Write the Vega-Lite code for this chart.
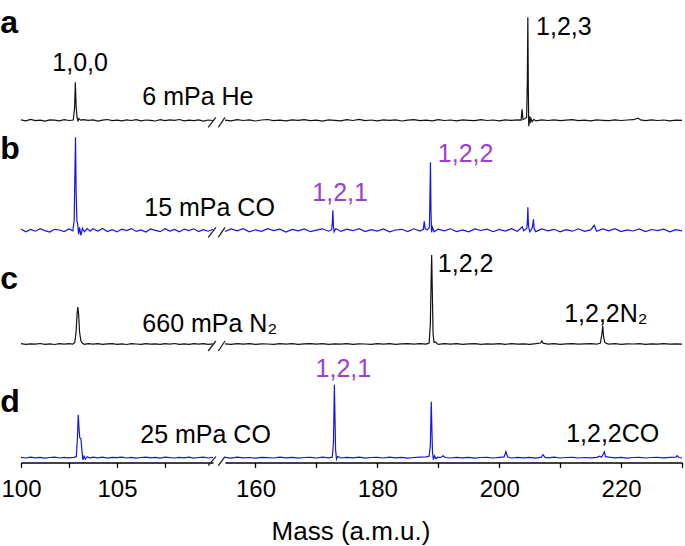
{
"$schema":"https://vega.github.io/schema/vega-lite/v6.json",
"autosize":{"type":"pad"},
"padding":{"left":0,"top":7,"right":3,"bottom":5},
"config":{"view":{"stroke":null},"font":"Liberation Sans",
"axis":{"domainColor":"#000","domainWidth":1.5,"tickColor":"#000","tickWidth":1.3,"tickSize":5,"labelFontSize":24,"labelColor":"#000","labelPadding":10,"labelFont":"Liberation Sans","titleFont":"Liberation Sans","titleFontSize":26,"titleFontWeight":"normal","titleColor":"#000","grid":false,"labelFlush":false,"labelOverlap":false},
"text":{"font":"Liberation Sans"}},
"data":{"values":[
{"p":"a","m":100.0,"v":0.4},{"p":"a","m":100.25,"v":-0.6},{"p":"a","m":100.5,"v":0.9},{"p":"a","m":100.75,"v":-0.3},{"p":"a","m":101.0,"v":0.2},{"p":"a","m":101.25,"v":-0.8},{"p":"a","m":101.5,"v":0.5},{"p":"a","m":101.75,"v":0.1},{"p":"a","m":102.0,"v":-0.5},{"p":"a","m":102.25,"v":0.7},{"p":"a","m":102.5,"v":-0.2},{"p":"a","m":102.72,"v":0.3},{"p":"a","m":102.79,"v":12},{"p":"a","m":102.83,"v":38},{"p":"a","m":102.87,"v":14},{"p":"a","m":102.92,"v":2.5},{"p":"a","m":102.97,"v":-0.5},{"p":"a","m":103.02,"v":1.8},{"p":"a","m":103.1,"v":0.2},{"p":"a","m":103.25,"v":0.6},{"p":"a","m":103.5,"v":-0.1},{"p":"a","m":103.75,"v":0.4},{"p":"a","m":104.0,"v":-0.9},{"p":"a","m":104.25,"v":0.2},{"p":"a","m":104.5,"v":0.8},{"p":"a","m":104.75,"v":-0.4},{"p":"a","m":105.0,"v":0.1},{"p":"a","m":105.25,"v":-0.6},{"p":"a","m":105.5,"v":0.5},{"p":"a","m":105.75,"v":-0.2},{"p":"a","m":106.0,"v":0.7},{"p":"a","m":106.25,"v":-0.5},{"p":"a","m":106.5,"v":0.3},{"p":"a","m":106.75,"v":0.0},{"p":"a","m":107.0,"v":-0.7},{"p":"a","m":107.25,"v":0.6},{"p":"a","m":107.5,"v":-0.3},{"p":"a","m":107.75,"v":0.4},{"p":"a","m":108.0,"v":-0.1},{"p":"a","m":108.25,"v":0.8},{"p":"a","m":108.5,"v":-0.6},{"p":"a","m":108.75,"v":0.2},{"p":"a","m":109.0,"v":-0.4},{"p":"a","m":109.25,"v":0.5},{"p":"a","m":109.5,"v":-0.8},{"p":"a","m":109.75,"v":0.3},{"p":"a","m":110.0,"v":-0.2},
{"p":"a","m":155,"v":0.2},{"p":"a","m":156,"v":-0.5},{"p":"a","m":157,"v":0.6},{"p":"a","m":158,"v":-0.2},{"p":"a","m":159,"v":0.4},{"p":"a","m":160,"v":-0.7},{"p":"a","m":161,"v":0.3},{"p":"a","m":162,"v":0.8},{"p":"a","m":163,"v":-0.4},{"p":"a","m":164,"v":0.1},{"p":"a","m":165,"v":-0.6},{"p":"a","m":166,"v":0.5},{"p":"a","m":167,"v":-0.1},{"p":"a","m":168,"v":0.7},{"p":"a","m":169,"v":-0.3},{"p":"a","m":170,"v":0.2},{"p":"a","m":171,"v":-0.8},{"p":"a","m":172,"v":0.4},{"p":"a","m":173,"v":0.0},{"p":"a","m":174,"v":-0.5},{"p":"a","m":175,"v":0.6},{"p":"a","m":176,"v":-0.2},{"p":"a","m":177,"v":0.9},{"p":"a","m":178,"v":-0.4},{"p":"a","m":179,"v":0.3},{"p":"a","m":180,"v":-0.6},{"p":"a","m":181,"v":0.5},{"p":"a","m":182,"v":-0.1},{"p":"a","m":183,"v":0.4},{"p":"a","m":184,"v":-0.7},{"p":"a","m":185,"v":0.2},{"p":"a","m":186,"v":0.6},{"p":"a","m":187,"v":-0.3},{"p":"a","m":188,"v":0.1},{"p":"a","m":189,"v":-0.5},{"p":"a","m":190,"v":0.7},{"p":"a","m":191,"v":-0.2},{"p":"a","m":192,"v":0.3},{"p":"a","m":193,"v":-0.6},{"p":"a","m":194,"v":0.5},{"p":"a","m":195,"v":0.0},{"p":"a","m":196,"v":-0.4},{"p":"a","m":197,"v":0.6},{"p":"a","m":198,"v":-0.2},{"p":"a","m":199,"v":0.3},{"p":"a","m":200,"v":-0.5},{"p":"a","m":201,"v":0.4},{"p":"a","m":202,"v":-0.1},{"p":"a","m":203,"v":0.5},{"p":"a","m":203.6,"v":0.2},{"p":"a","m":203.75,"v":11},{"p":"a","m":203.9,"v":0.8},{"p":"a","m":204.2,"v":1.5},{"p":"a","m":204.5,"v":3},{"p":"a","m":204.62,"v":40},{"p":"a","m":204.7,"v":103},{"p":"a","m":204.78,"v":30},{"p":"a","m":204.85,"v":-6},{"p":"a","m":204.95,"v":4},{"p":"a","m":205.05,"v":-3},{"p":"a","m":205.2,"v":2},{"p":"a","m":205.4,"v":-1.5},{"p":"a","m":205.7,"v":1},{"p":"a","m":206,"v":-0.6},{"p":"a","m":207,"v":0.4},{"p":"a","m":208,"v":-0.2},{"p":"a","m":209,"v":0.5},{"p":"a","m":210,"v":-0.4},{"p":"a","m":211,"v":0.1},{"p":"a","m":212,"v":0.6},{"p":"a","m":213,"v":-0.3},{"p":"a","m":214,"v":0.2},{"p":"a","m":215,"v":-0.5},{"p":"a","m":216,"v":0.4},{"p":"a","m":217,"v":0.0},{"p":"a","m":218,"v":-0.4},{"p":"a","m":219,"v":0.5},{"p":"a","m":220,"v":-0.2},{"p":"a","m":221,"v":0.3},{"p":"a","m":222,"v":0.6},{"p":"a","m":222.8,"v":2.2},{"p":"a","m":223.2,"v":0.4},{"p":"a","m":224,"v":-0.3},{"p":"a","m":225,"v":0.5},{"p":"a","m":226,"v":-0.2},{"p":"a","m":227,"v":0.3},{"p":"a","m":228,"v":-0.5},{"p":"a","m":229,"v":0.2},{"p":"a","m":230,"v":-0.1},
{"p":"b","m":100.0,"v":1.2},{"p":"b","m":100.25,"v":-1.5},{"p":"b","m":100.5,"v":0.8},{"p":"b","m":100.75,"v":-0.9},{"p":"b","m":101.0,"v":1.6},{"p":"b","m":101.25,"v":-0.4},{"p":"b","m":101.5,"v":-1.8},{"p":"b","m":101.75,"v":1.0},{"p":"b","m":102.0,"v":0.3},{"p":"b","m":102.25,"v":-1.2},{"p":"b","m":102.5,"v":1.4},{"p":"b","m":102.7,"v":-0.6},{"p":"b","m":102.77,"v":10},{"p":"b","m":102.81,"v":60},{"p":"b","m":102.84,"v":93},{"p":"b","m":102.87,"v":40},{"p":"b","m":102.91,"v":9},{"p":"b","m":102.95,"v":7},{"p":"b","m":103.0,"v":-4},{"p":"b","m":103.05,"v":3},{"p":"b","m":103.12,"v":-5},{"p":"b","m":103.2,"v":2},{"p":"b","m":103.3,"v":-1.5},{"p":"b","m":103.45,"v":1.8},{"p":"b","m":103.6,"v":-1.0},{"p":"b","m":103.75,"v":1.5},{"p":"b","m":104.0,"v":-0.8},{"p":"b","m":104.25,"v":1.9},{"p":"b","m":104.5,"v":-1.3},{"p":"b","m":104.75,"v":0.6},{"p":"b","m":105.0,"v":-1.6},{"p":"b","m":105.25,"v":1.1},{"p":"b","m":105.5,"v":-0.2},{"p":"b","m":105.75,"v":1.7},{"p":"b","m":106.0,"v":-1.1},{"p":"b","m":106.25,"v":0.4},{"p":"b","m":106.5,"v":-1.7},{"p":"b","m":106.75,"v":1.3},{"p":"b","m":107.0,"v":0.0},{"p":"b","m":107.25,"v":-1.4},{"p":"b","m":107.5,"v":1.6},{"p":"b","m":107.75,"v":-0.7},{"p":"b","m":108.0,"v":0.9},{"p":"b","m":108.25,"v":-1.5},{"p":"b","m":108.5,"v":1.2},{"p":"b","m":108.75,"v":-0.3},{"p":"b","m":109.0,"v":1.5},{"p":"b","m":109.25,"v":-1.2},{"p":"b","m":109.5,"v":0.7},{"p":"b","m":109.75,"v":-0.9},{"p":"b","m":110.0,"v":1.1},
{"p":"b","m":155,"v":-1.2},{"p":"b","m":156,"v":1.4},{"p":"b","m":157,"v":-0.6},{"p":"b","m":158,"v":1.7},{"p":"b","m":159,"v":-1.5},{"p":"b","m":160,"v":0.5},{"p":"b","m":161,"v":-1.0},{"p":"b","m":162,"v":1.6},{"p":"b","m":163,"v":-0.3},{"p":"b","m":164,"v":1.1},{"p":"b","m":165,"v":-1.7},{"p":"b","m":166,"v":0.8},{"p":"b","m":167,"v":-0.5},{"p":"b","m":168,"v":1.3},{"p":"b","m":169,"v":-1.4},{"p":"b","m":170,"v":0.2},{"p":"b","m":171,"v":1.5},{"p":"b","m":172,"v":-0.9},{"p":"b","m":172.5,"v":0.6},{"p":"b","m":172.62,"v":8},{"p":"b","m":172.7,"v":20},{"p":"b","m":172.8,"v":4},{"p":"b","m":172.9,"v":-1.5},{"p":"b","m":173.2,"v":1.8},{"p":"b","m":174,"v":-1.1},{"p":"b","m":175,"v":1.2},{"p":"b","m":176,"v":-0.4},{"p":"b","m":177,"v":1.6},{"p":"b","m":178,"v":-1.3},{"p":"b","m":179,"v":0.7},{"p":"b","m":180,"v":-0.8},{"p":"b","m":181,"v":1.4},{"p":"b","m":182,"v":-1.6},{"p":"b","m":183,"v":0.3},{"p":"b","m":184,"v":1.0},{"p":"b","m":185,"v":-1.2},{"p":"b","m":186,"v":1.5},{"p":"b","m":187,"v":-0.7},{"p":"b","m":187.55,"v":1},{"p":"b","m":187.7,"v":9},{"p":"b","m":187.85,"v":1.5},{"p":"b","m":188.2,"v":0.5},{"p":"b","m":188.55,"v":3},{"p":"b","m":188.65,"v":40},{"p":"b","m":188.72,"v":68},{"p":"b","m":188.8,"v":20},{"p":"b","m":188.9,"v":-2},{"p":"b","m":189.05,"v":3},{"p":"b","m":189.3,"v":-1.5},{"p":"b","m":190,"v":1.2},{"p":"b","m":191,"v":-0.6},{"p":"b","m":192,"v":1.5},{"p":"b","m":193,"v":-1.2},{"p":"b","m":194,"v":0.4},{"p":"b","m":195,"v":-1.6},{"p":"b","m":196,"v":1.3},{"p":"b","m":197,"v":-0.2},{"p":"b","m":198,"v":1.1},{"p":"b","m":199,"v":-1.4},{"p":"b","m":200,"v":0.9},{"p":"b","m":201,"v":-0.8},{"p":"b","m":202,"v":1.6},{"p":"b","m":203,"v":-1.0},{"p":"b","m":203.8,"v":3.5},{"p":"b","m":204,"v":-0.5},{"p":"b","m":204.55,"v":2},{"p":"b","m":204.65,"v":12},{"p":"b","m":204.7,"v":23},{"p":"b","m":204.8,"v":5},{"p":"b","m":205.0,"v":-1.5},{"p":"b","m":205.4,"v":2},{"p":"b","m":205.55,"v":7},{"p":"b","m":205.62,"v":11},{"p":"b","m":205.72,"v":2},{"p":"b","m":206,"v":-1.3},{"p":"b","m":207,"v":1.4},{"p":"b","m":208,"v":-0.5},{"p":"b","m":209,"v":1.0},{"p":"b","m":210,"v":-1.5},{"p":"b","m":211,"v":0.6},{"p":"b","m":212,"v":-0.9},{"p":"b","m":213,"v":1.5},{"p":"b","m":214,"v":-1.1},{"p":"b","m":215,"v":0.4},{"p":"b","m":215.6,"v":5},{"p":"b","m":215.9,"v":0.2},{"p":"b","m":216,"v":-1.0},{"p":"b","m":217,"v":1.3},{"p":"b","m":218,"v":-0.6},{"p":"b","m":219,"v":1.6},{"p":"b","m":220,"v":-1.2},{"p":"b","m":221,"v":0.5},{"p":"b","m":222,"v":-0.7},{"p":"b","m":223,"v":1.4},{"p":"b","m":224,"v":-1.3},{"p":"b","m":225,"v":0.8},{"p":"b","m":226,"v":-0.4},{"p":"b","m":227,"v":1.2},{"p":"b","m":228,"v":-1.5},{"p":"b","m":229,"v":0.7},{"p":"b","m":230,"v":-0.5},
{"p":"c","m":100.0,"v":0.3},{"p":"c","m":100.25,"v":-0.4},{"p":"c","m":100.5,"v":0.2},{"p":"c","m":100.75,"v":-0.2},{"p":"c","m":101.0,"v":0.5},{"p":"c","m":101.25,"v":-0.3},{"p":"c","m":101.5,"v":0.1},{"p":"c","m":101.75,"v":-0.5},{"p":"c","m":102.0,"v":0.3},{"p":"c","m":102.25,"v":-0.1},{"p":"c","m":102.5,"v":0.4},{"p":"c","m":102.7,"v":-0.2},{"p":"c","m":102.8,"v":1.5},{"p":"c","m":102.87,"v":12},{"p":"c","m":102.92,"v":30},{"p":"c","m":102.96,"v":37},{"p":"c","m":103.0,"v":30},{"p":"c","m":103.05,"v":12},{"p":"c","m":103.12,"v":3},{"p":"c","m":103.2,"v":0.8},{"p":"c","m":103.3,"v":-0.3},{"p":"c","m":103.5,"v":0.4},{"p":"c","m":103.75,"v":-0.2},{"p":"c","m":104.0,"v":0.3},{"p":"c","m":104.25,"v":-0.4},{"p":"c","m":104.5,"v":0.1},{"p":"c","m":104.75,"v":0.4},{"p":"c","m":105.0,"v":-0.3},{"p":"c","m":105.25,"v":0.2},{"p":"c","m":105.5,"v":-0.5},{"p":"c","m":105.75,"v":0.3},{"p":"c","m":106.0,"v":0.0},{"p":"c","m":106.25,"v":-0.3},{"p":"c","m":106.5,"v":0.4},{"p":"c","m":106.75,"v":-0.2},{"p":"c","m":107.0,"v":0.2},{"p":"c","m":107.25,"v":-0.4},{"p":"c","m":107.5,"v":0.3},{"p":"c","m":107.75,"v":-0.1},{"p":"c","m":108.0,"v":0.5},{"p":"c","m":108.25,"v":-0.3},{"p":"c","m":108.5,"v":0.1},{"p":"c","m":108.75,"v":-0.4},{"p":"c","m":109.0,"v":0.3},{"p":"c","m":109.25,"v":-0.2},{"p":"c","m":109.5,"v":0.4},{"p":"c","m":109.75,"v":-0.3},{"p":"c","m":110.0,"v":0.1},
{"p":"c","m":155,"v":0.2},{"p":"c","m":156,"v":-0.3},{"p":"c","m":157,"v":0.4},{"p":"c","m":158,"v":-0.1},{"p":"c","m":159,"v":0.3},{"p":"c","m":160,"v":-0.4},{"p":"c","m":161,"v":0.2},{"p":"c","m":162,"v":0.0},{"p":"c","m":163,"v":-0.3},{"p":"c","m":164,"v":0.4},{"p":"c","m":165,"v":-0.2},{"p":"c","m":166,"v":0.3},{"p":"c","m":167,"v":-0.4},{"p":"c","m":168,"v":0.1},{"p":"c","m":169,"v":0.3},{"p":"c","m":170,"v":-0.2},{"p":"c","m":171,"v":0.4},{"p":"c","m":172,"v":-0.3},{"p":"c","m":173,"v":0.2},{"p":"c","m":174,"v":-0.1},{"p":"c","m":175,"v":0.3},{"p":"c","m":176,"v":-0.4},{"p":"c","m":177,"v":0.2},{"p":"c","m":178,"v":0.0},{"p":"c","m":179,"v":-0.3},{"p":"c","m":180,"v":0.4},{"p":"c","m":181,"v":-0.2},{"p":"c","m":182,"v":0.3},{"p":"c","m":183,"v":-0.4},{"p":"c","m":184,"v":0.1},{"p":"c","m":185,"v":0.3},{"p":"c","m":186,"v":-0.2},{"p":"c","m":187,"v":0.4},{"p":"c","m":188,"v":-0.1},{"p":"c","m":188.5,"v":1},{"p":"c","m":188.7,"v":20},{"p":"c","m":188.85,"v":70},{"p":"c","m":188.92,"v":89},{"p":"c","m":189.0,"v":60},{"p":"c","m":189.15,"v":10},{"p":"c","m":189.3,"v":1.5},{"p":"c","m":189.5,"v":2},{"p":"c","m":189.8,"v":0.5},{"p":"c","m":190,"v":-0.3},{"p":"c","m":191,"v":0.3},{"p":"c","m":192,"v":-0.2},{"p":"c","m":193,"v":0.4},{"p":"c","m":194,"v":-0.3},{"p":"c","m":195,"v":0.1},{"p":"c","m":196,"v":0.3},{"p":"c","m":197,"v":-0.4},{"p":"c","m":198,"v":0.2},{"p":"c","m":199,"v":-0.1},{"p":"c","m":200,"v":0.3},{"p":"c","m":201,"v":-0.3},{"p":"c","m":202,"v":0.4},{"p":"c","m":203,"v":-0.2},{"p":"c","m":204,"v":0.2},{"p":"c","m":205,"v":-0.3},{"p":"c","m":206,"v":0.3},{"p":"c","m":206.8,"v":1},{"p":"c","m":207,"v":3},{"p":"c","m":207.2,"v":0.8},{"p":"c","m":208,"v":-0.2},{"p":"c","m":209,"v":0.3},{"p":"c","m":210,"v":-0.3},{"p":"c","m":211,"v":0.2},{"p":"c","m":212,"v":0.4},{"p":"c","m":213,"v":-0.2},{"p":"c","m":214,"v":0.1},{"p":"c","m":215,"v":0.3},{"p":"c","m":216,"v":-0.2},{"p":"c","m":216.6,"v":1},{"p":"c","m":216.85,"v":10},{"p":"c","m":217,"v":18},{"p":"c","m":217.12,"v":8},{"p":"c","m":217.3,"v":2},{"p":"c","m":217.6,"v":0.6},{"p":"c","m":218,"v":-0.2},{"p":"c","m":219,"v":0.3},{"p":"c","m":220,"v":-0.3},{"p":"c","m":221,"v":0.2},{"p":"c","m":222,"v":0.0},{"p":"c","m":223,"v":0.3},{"p":"c","m":224,"v":-0.3},{"p":"c","m":225,"v":0.2},{"p":"c","m":226,"v":-0.2},{"p":"c","m":227,"v":0.3},{"p":"c","m":228,"v":-0.1},{"p":"c","m":229,"v":0.2},{"p":"c","m":230,"v":-0.2},
{"p":"d","m":100.0,"v":0.4},{"p":"d","m":100.25,"v":-0.3},{"p":"d","m":100.5,"v":0.6},{"p":"d","m":100.75,"v":-0.2},{"p":"d","m":101.0,"v":0.3},{"p":"d","m":101.25,"v":-0.5},{"p":"d","m":101.5,"v":0.2},{"p":"d","m":101.75,"v":0.5},{"p":"d","m":102.0,"v":-0.3},{"p":"d","m":102.25,"v":0.4},{"p":"d","m":102.5,"v":-0.1},{"p":"d","m":102.75,"v":0.3},{"p":"d","m":102.88,"v":1},{"p":"d","m":102.94,"v":20},{"p":"d","m":102.98,"v":43},{"p":"d","m":103.02,"v":30},{"p":"d","m":103.06,"v":20},{"p":"d","m":103.12,"v":19},{"p":"d","m":103.17,"v":8},{"p":"d","m":103.22,"v":-2},{"p":"d","m":103.28,"v":1.5},{"p":"d","m":103.35,"v":-1.5},{"p":"d","m":103.45,"v":1},{"p":"d","m":103.6,"v":-0.4},{"p":"d","m":103.75,"v":0.6},{"p":"d","m":104.0,"v":-0.2},{"p":"d","m":104.25,"v":0.5},{"p":"d","m":104.5,"v":-0.4},{"p":"d","m":104.75,"v":0.3},{"p":"d","m":105.0,"v":0.0},{"p":"d","m":105.25,"v":0.5},{"p":"d","m":105.5,"v":-0.3},{"p":"d","m":105.75,"v":0.4},{"p":"d","m":106.0,"v":-0.5},{"p":"d","m":106.25,"v":0.2},{"p":"d","m":106.5,"v":0.6},{"p":"d","m":106.75,"v":-0.2},{"p":"d","m":107.0,"v":0.3},{"p":"d","m":107.25,"v":-0.4},{"p":"d","m":107.5,"v":0.5},{"p":"d","m":107.75,"v":0.0},{"p":"d","m":108.0,"v":-0.3},{"p":"d","m":108.25,"v":0.4},{"p":"d","m":108.5,"v":-0.2},{"p":"d","m":108.75,"v":0.5},{"p":"d","m":109.0,"v":-0.4},{"p":"d","m":109.25,"v":0.2},{"p":"d","m":109.5,"v":0.5},{"p":"d","m":109.75,"v":-0.3},{"p":"d","m":110.0,"v":0.3},
{"p":"d","m":155,"v":0.3},{"p":"d","m":156,"v":-0.4},{"p":"d","m":157,"v":0.5},{"p":"d","m":158,"v":-0.2},{"p":"d","m":159,"v":0.2},{"p":"d","m":160,"v":-0.5},{"p":"d","m":161,"v":0.4},{"p":"d","m":162,"v":0.1},{"p":"d","m":163,"v":-0.3},{"p":"d","m":164,"v":0.5},{"p":"d","m":165,"v":-0.2},{"p":"d","m":166,"v":0.3},{"p":"d","m":167,"v":-0.5},{"p":"d","m":168,"v":0.2},{"p":"d","m":169,"v":0.4},{"p":"d","m":170,"v":-0.3},{"p":"d","m":171,"v":0.5},{"p":"d","m":172,"v":-0.1},{"p":"d","m":172.6,"v":0.5},{"p":"d","m":172.8,"v":15},{"p":"d","m":172.95,"v":73},{"p":"d","m":173.05,"v":40},{"p":"d","m":173.15,"v":8},{"p":"d","m":173.3,"v":-1.5},{"p":"d","m":173.5,"v":1.2},{"p":"d","m":173.8,"v":0.4},{"p":"d","m":174,"v":-0.3},{"p":"d","m":175,"v":0.4},{"p":"d","m":176,"v":-0.2},{"p":"d","m":177,"v":0.5},{"p":"d","m":178,"v":-0.4},{"p":"d","m":179,"v":0.2},{"p":"d","m":180,"v":0.3},{"p":"d","m":181,"v":-0.3},{"p":"d","m":182,"v":0.5},{"p":"d","m":183,"v":-0.1},{"p":"d","m":184,"v":0.3},{"p":"d","m":185,"v":-0.4},{"p":"d","m":186,"v":0.2},{"p":"d","m":187,"v":0.5},{"p":"d","m":188,"v":0.8},{"p":"d","m":188.5,"v":1.5},{"p":"d","m":188.7,"v":12},{"p":"d","m":188.85,"v":56},{"p":"d","m":188.95,"v":30},{"p":"d","m":189.05,"v":6},{"p":"d","m":189.2,"v":-2},{"p":"d","m":189.4,"v":2},{"p":"d","m":189.6,"v":-1},{"p":"d","m":189.9,"v":0.5},{"p":"d","m":190.4,"v":0.2},{"p":"d","m":190.8,"v":2},{"p":"d","m":191.1,"v":0.2},{"p":"d","m":192,"v":-0.3},{"p":"d","m":193,"v":0.4},{"p":"d","m":194,"v":-0.2},{"p":"d","m":195,"v":0.3},{"p":"d","m":196,"v":-0.4},{"p":"d","m":197,"v":0.2},{"p":"d","m":198,"v":0.4},{"p":"d","m":199,"v":-0.3},{"p":"d","m":200,"v":0.3},{"p":"d","m":200.8,"v":0.8},{"p":"d","m":201.1,"v":6},{"p":"d","m":201.4,"v":0.6},{"p":"d","m":202,"v":-0.3},{"p":"d","m":203,"v":0.4},{"p":"d","m":204,"v":-0.2},{"p":"d","m":205,"v":0.3},{"p":"d","m":206,"v":-0.4},{"p":"d","m":206.9,"v":0.6},{"p":"d","m":207.2,"v":3},{"p":"d","m":207.5,"v":0.4},{"p":"d","m":208,"v":-0.2},{"p":"d","m":209,"v":0.5},{"p":"d","m":210,"v":-0.3},{"p":"d","m":211,"v":0.2},{"p":"d","m":212,"v":0.4},{"p":"d","m":213,"v":-0.3},{"p":"d","m":214,"v":0.2},{"p":"d","m":215,"v":-0.1},{"p":"d","m":216,"v":0.4},{"p":"d","m":216.5,"v":1.5},{"p":"d","m":216.8,"v":0.5},{"p":"d","m":217.1,"v":4},{"p":"d","m":217.25,"v":6},{"p":"d","m":217.45,"v":1},{"p":"d","m":218,"v":0.5},{"p":"d","m":219,"v":-0.2},{"p":"d","m":220,"v":0.3},{"p":"d","m":221,"v":-0.4},{"p":"d","m":222,"v":0.2},{"p":"d","m":223,"v":0.4},{"p":"d","m":224,"v":-0.3},{"p":"d","m":225,"v":0.2},{"p":"d","m":226,"v":0.4},{"p":"d","m":227,"v":-0.2},{"p":"d","m":228,"v":0.3},{"p":"d","m":229,"v":0.5},{"p":"d","m":229.2,"v":2},{"p":"d","m":229.5,"v":0.2},{"p":"d","m":230,"v":-0.3},
{"k":"l","p":"a","m":101.63,"v":57,"t":"1,0,0"},{"k":"l","p":"a","m":106.32,"v":23,"t":"6 mPa He"},{"k":"l","p":"a","m":206.05,"v":93,"t":"1,2,3"},{"k":"t","p":"a","m":98.92,"v":87,"t":"a"},
{"k":"l","p":"b","m":106.42,"v":22,"t":"15 mPa CO"},{"k":"h","p":"b","m":169.33,"v":37,"t":"1,2,1"},{"k":"h","p":"b","m":189.93,"v":76,"t":"1,2,2"},{"k":"t","p":"b","m":98.92,"v":71,"t":"b"},
{"k":"l","p":"c","m":106.32,"v":20,"t":"660 mPa N₂"},{"k":"l","p":"c","m":189.93,"v":80,"t":"1,2,2"},{"k":"l","p":"c","m":210.66,"v":30,"t":"1,2,2N₂"},{"k":"t","p":"c","m":98.92,"v":55,"t":"c"},
{"k":"l","p":"d","m":106.21,"v":23,"t":"25 mPa CO"},{"k":"h","p":"d","m":169.87,"v":89,"t":"1,2,1"},{"k":"l","p":"d","m":210.99,"v":24,"t":"1,2,2CO"},{"k":"t","p":"d","m":98.92,"v":46,"t":"d"},
{"k":"b","p":"a","m":109.75,"m2":110.15,"v":-7,"v2":3},{"k":"b","p":"a","m":153.9,"m2":155.0,"v":-7,"v2":3},
{"k":"b","p":"b","m":109.75,"m2":110.15,"v":-7,"v2":3},{"k":"b","p":"b","m":153.9,"m2":155.0,"v":-7,"v2":3},
{"k":"b","p":"c","m":109.75,"m2":110.15,"v":-7,"v2":3},{"k":"b","p":"c","m":153.9,"m2":155.0,"v":-7,"v2":3},
{"k":"b","p":"d","m":109.75,"m2":110.15,"v":-8,"v2":1},{"k":"b","p":"d","m":153.9,"m2":155.0,"v":-8,"v2":1}
]},
"spacing":0,
"vconcat":[
{"hconcat":[
 {"transform":[{"filter":"datum.p=='a' && datum.m <= 111"}],"width":192,"height":115.3,
  "encoding":{"x":{"field":"m","type":"quantitative","scale":{"domain":[100,110],"nice":false,"zero":false},"axis":null},
   "y":{"field":"v","type":"quantitative","scale":{"domain":[-8,107.3],"nice":false,"zero":false},"axis":null}},
  "layer":[
   {"transform":[{"filter":"!datum.k"}],"mark":{"type":"line","strokeWidth":1.2,"color":"#111111"},"encoding":{}},
   {"transform":[{"filter":"datum.k=='b'"}],"mark":{"type":"rule","color":"#222222","strokeWidth":1.3},"encoding":{"x2":{"field":"m2"},"y2":{"field":"v2"}}},
   {"transform":[{"filter":"datum.k=='l'"}],"mark":{"type":"text","align":"left","baseline":"middle","fontSize":25,"color":"#000000"},"encoding":{"text":{"field":"t"}}},
   {"transform":[{"filter":"datum.k=='t'"}],"mark":{"type":"text","align":"left","baseline":"alphabetic","fontSize":32,"fontWeight":"bold","color":"#000000"},"encoding":{"text":{"field":"t"}}}]},
 {"transform":[{"filter":"datum.p=='a' && datum.m >= 150"}],"width":457,"height":115.3,
  "encoding":{"x":{"field":"m","type":"quantitative","scale":{"domain":[155,230],"nice":false,"zero":false},"axis":null},
   "y":{"field":"v","type":"quantitative","scale":{"domain":[-8,107.3],"nice":false,"zero":false},"axis":null}},
  "layer":[
   {"transform":[{"filter":"!datum.k"}],"mark":{"type":"line","strokeWidth":1.2,"color":"#111111"},"encoding":{}},
   {"transform":[{"filter":"datum.k=='b'"}],"mark":{"type":"rule","color":"#222222","strokeWidth":1.3},"encoding":{"x2":{"field":"m2"},"y2":{"field":"v2"}}},
   {"transform":[{"filter":"datum.k=='l'"}],"mark":{"type":"text","align":"left","baseline":"middle","fontSize":25,"color":"#000000"},"encoding":{"text":{"field":"t"}}}]}
 ],"spacing":12,"bounds":"flush"},
{"hconcat":[
 {"transform":[{"filter":"datum.p=='b' && datum.m <= 111"}],"width":192,"height":109.3,
  "encoding":{"x":{"field":"m","type":"quantitative","scale":{"domain":[100,110],"nice":false,"zero":false},"axis":null},
   "y":{"field":"v","type":"quantitative","scale":{"domain":[-8,101.3],"nice":false,"zero":false},"axis":null}},
  "layer":[
   {"transform":[{"filter":"!datum.k"}],"mark":{"type":"line","strokeWidth":1.2,"color":"#1414ee"},"encoding":{}},
   {"transform":[{"filter":"datum.k=='b'"}],"mark":{"type":"rule","color":"#222222","strokeWidth":1.3},"encoding":{"x2":{"field":"m2"},"y2":{"field":"v2"}}},
   {"transform":[{"filter":"datum.k=='l'"}],"mark":{"type":"text","align":"left","baseline":"middle","fontSize":25,"color":"#000000"},"encoding":{"text":{"field":"t"}}},
   {"transform":[{"filter":"datum.k=='t'"}],"mark":{"type":"text","align":"left","baseline":"alphabetic","fontSize":32,"fontWeight":"bold","color":"#000000"},"encoding":{"text":{"field":"t"}}}]},
 {"transform":[{"filter":"datum.p=='b' && datum.m >= 150"}],"width":457,"height":109.3,
  "encoding":{"x":{"field":"m","type":"quantitative","scale":{"domain":[155,230],"nice":false,"zero":false},"axis":null},
   "y":{"field":"v","type":"quantitative","scale":{"domain":[-8,101.3],"nice":false,"zero":false},"axis":null}},
  "layer":[
   {"transform":[{"filter":"!datum.k"}],"mark":{"type":"line","strokeWidth":1.2,"color":"#1414ee"},"encoding":{}},
   {"transform":[{"filter":"datum.k=='b'"}],"mark":{"type":"rule","color":"#222222","strokeWidth":1.3},"encoding":{"x2":{"field":"m2"},"y2":{"field":"v2"}}},
   {"transform":[{"filter":"datum.k=='h'"}],"mark":{"type":"text","align":"left","baseline":"middle","fontSize":25,"color":"#9b3fcf"},"encoding":{"text":{"field":"t"}}}]}
 ],"spacing":12,"bounds":"flush"},
{"hconcat":[
 {"transform":[{"filter":"datum.p=='c' && datum.m <= 111"}],"width":192,"height":113,
  "encoding":{"x":{"field":"m","type":"quantitative","scale":{"domain":[100,110],"nice":false,"zero":false},"axis":null},
   "y":{"field":"v","type":"quantitative","scale":{"domain":[-8,105],"nice":false,"zero":false},"axis":null}},
  "layer":[
   {"transform":[{"filter":"!datum.k"}],"mark":{"type":"line","strokeWidth":1.2,"color":"#111111"},"encoding":{}},
   {"transform":[{"filter":"datum.k=='b'"}],"mark":{"type":"rule","color":"#222222","strokeWidth":1.3},"encoding":{"x2":{"field":"m2"},"y2":{"field":"v2"}}},
   {"transform":[{"filter":"datum.k=='l'"}],"mark":{"type":"text","align":"left","baseline":"middle","fontSize":25,"color":"#000000"},"encoding":{"text":{"field":"t"}}},
   {"transform":[{"filter":"datum.k=='t'"}],"mark":{"type":"text","align":"left","baseline":"alphabetic","fontSize":32,"fontWeight":"bold","color":"#000000"},"encoding":{"text":{"field":"t"}}}]},
 {"transform":[{"filter":"datum.p=='c' && datum.m >= 150"}],"width":457,"height":113,
  "encoding":{"x":{"field":"m","type":"quantitative","scale":{"domain":[155,230],"nice":false,"zero":false},"axis":null},
   "y":{"field":"v","type":"quantitative","scale":{"domain":[-8,105],"nice":false,"zero":false},"axis":null}},
  "layer":[
   {"transform":[{"filter":"!datum.k"}],"mark":{"type":"line","strokeWidth":1.2,"color":"#111111"},"encoding":{}},
   {"transform":[{"filter":"datum.k=='b'"}],"mark":{"type":"rule","color":"#222222","strokeWidth":1.3},"encoding":{"x2":{"field":"m2"},"y2":{"field":"v2"}}},
   {"transform":[{"filter":"datum.k=='l'"}],"mark":{"type":"text","align":"left","baseline":"middle","fontSize":25,"color":"#000000"},"encoding":{"text":{"field":"t"}}}]}
 ],"spacing":12,"bounds":"flush"},
{"hconcat":[
 {"transform":[{"filter":"datum.p=='d' && datum.m <= 111"}],"width":192,"height":110.4,
  "encoding":{"x":{"field":"m","type":"quantitative","scale":{"domain":[100,110],"nice":false,"zero":false},"axis":{"values":[100,102.5,105,107.5],"labelExpr":"datum.value % 5 == 0 ? datum.label : ''","title":null}},
   "y":{"field":"v","type":"quantitative","scale":{"domain":[-4.7,105.7],"nice":false,"zero":false},"axis":null}},
  "layer":[
   {"transform":[{"filter":"!datum.k"}],"mark":{"type":"line","strokeWidth":1.2,"color":"#1414ee"},"encoding":{}},
   {"transform":[{"filter":"datum.k=='b'"}],"mark":{"type":"rule","color":"#222222","strokeWidth":1.3},"encoding":{"x2":{"field":"m2"},"y2":{"field":"v2"}}},
   {"transform":[{"filter":"datum.k=='l'"}],"mark":{"type":"text","align":"left","baseline":"middle","fontSize":25,"color":"#000000"},"encoding":{"text":{"field":"t"}}},
   {"transform":[{"filter":"datum.k=='t'"}],"mark":{"type":"text","align":"left","baseline":"alphabetic","fontSize":32,"fontWeight":"bold","color":"#000000"},"encoding":{"text":{"field":"t"}}}]},
 {"transform":[{"filter":"datum.p=='d' && datum.m >= 150"}],"width":457,"height":110.4,
  "encoding":{"x":{"field":"m","type":"quantitative","scale":{"domain":[155,230],"nice":false,"zero":false},"axis":{"values":[160,170,180,190,200,210,220,230],"labelExpr":"datum.value % 20 == 0 ? datum.label : ''","title":"Mass (a.m.u.)","titleX":125.5,"titleY":77,"titleAlign":"center","titleBaseline":"alphabetic"}},
   "y":{"field":"v","type":"quantitative","scale":{"domain":[-4.7,105.7],"nice":false,"zero":false},"axis":null}},
  "layer":[
   {"transform":[{"filter":"!datum.k"}],"mark":{"type":"line","strokeWidth":1.2,"color":"#1414ee"},"encoding":{}},
   {"transform":[{"filter":"datum.k=='b'"}],"mark":{"type":"rule","color":"#222222","strokeWidth":1.3},"encoding":{"x2":{"field":"m2"},"y2":{"field":"v2"}}},
   {"transform":[{"filter":"datum.k=='l'"}],"mark":{"type":"text","align":"left","baseline":"middle","fontSize":25,"color":"#000000"},"encoding":{"text":{"field":"t"}}},
   {"transform":[{"filter":"datum.k=='h'"}],"mark":{"type":"text","align":"left","baseline":"middle","fontSize":25,"color":"#9b3fcf"},"encoding":{"text":{"field":"t"}}}]}
 ],"spacing":12,"bounds":"flush"}
]
}
